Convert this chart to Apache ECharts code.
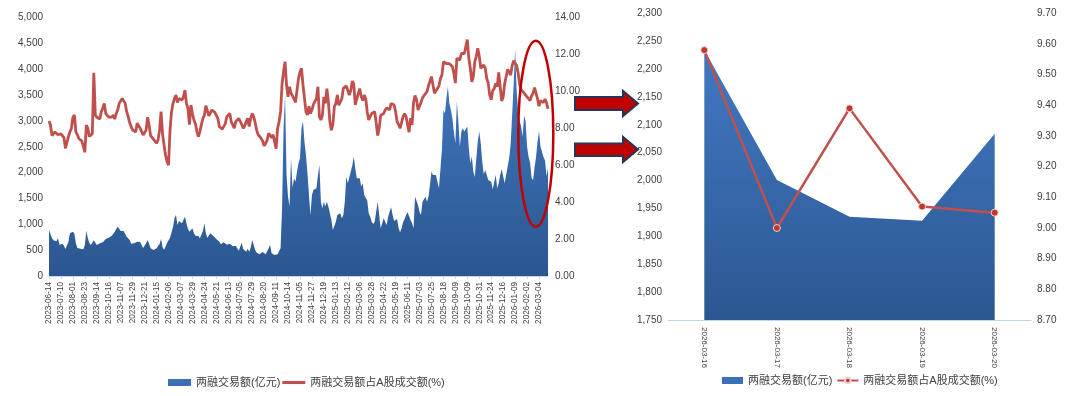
<!DOCTYPE html>
<html>
<head>
<meta charset="utf-8">
<script src="https://cdn.jsdelivr.net/npm/echarts@6.0.0/dist/echarts.min.js"></script>
<style>
html,body{margin:0;padding:0;background:#fff;}
#chart{width:1080px;height:396px;}
</style>
</head>
<body>
<div id="chart"></div>
<script>
// ---- Left panel: tick labels (a label every 8th sample; one sample = 2 trading days) ----
const tickDates = ['2023-06-14','2023-07-10','2023-08-01','2023-08-23','2023-09-14','2023-10-16','2023-11-07','2023-11-29','2023-12-21',
'2024-01-15','2024-02-06','2024-03-07','2024-03-29','2024-04-24','2024-05-21','2024-06-13','2024-07-05','2024-07-29','2024-08-20',
'2024-09-11','2024-10-14','2024-11-05','2024-11-27','2024-12-19','2025-01-13','2025-02-12','2025-03-06','2025-03-28','2025-04-22',
'2025-05-19','2025-06-11','2025-07-03','2025-07-25','2025-08-18','2025-09-09','2025-10-09','2025-10-31','2025-11-24','2025-12-16',
'2026-01-09','2026-02-02','2026-03-04'];

// 两融交易额(亿元), values
const amtHistory = [
890,864,729,690,697,671,729,606,632,626,587,522,503,664,826,826,858,819,632,542,
535,529,522,516,600,877,729,639,600,639,697,645,600,574,632,606,651,639,716,742,
742,735,780,793,858,909,955,935,871,871,871,813,761,787,697,626,632,632,632,664,
651,658,600,542,522,632,697,626,535,542,503,484,535,580,620,716,560,510,568,639,
664,742,761,948,1116,1180,987,1064,1051,1019,1019,1148,1019,916,858,884,922,826,780,780,
774,729,742,871,1019,826,742,755,826,806,774,780,716,697,664,613,613,651,639,606,
613,626,600,574,548,587,535,490,568,645,522,497,471,529,471,548,697,716,503,452,
439,419,406,464,439,419,419,535,600,439,419,406,390,420,420,535,1300,2857,3500,1954,
1535,1342,2277,1709,1890,1825,2019,2180,2277,2857,2986,2599,2341,1987,1567,1180,1567,1664,1664,1696,
1954,2148,1438,1309,1438,1342,1438,1342,1213,1084,890,890,1051,1180,1148,1213,1116,1180,1438,1922,
1793,1793,2019,2135,2309,2083,1890,1922,1890,1729,1793,1567,1567,1458,1213,1148,1051,1006,1051,1245,
1438,1180,922,1019,1116,1051,987,1148,1245,1329,1180,1064,1100,1103,922,845,922,1038,1103,1180,
1232,1161,1084,1019,922,1535,1535,1374,1245,1180,1438,1438,1535,1438,1535,1761,2019,1954,1954,1954,
1825,1696,1664,2438,3212,3148,3438,3664,3341,3212,3051,2780,2567,3373,2986,2503,2793,2857,2793,2761,
2890,2470,2180,2309,2019,1916,1954,2612,2793,2567,2212,1967,2051,1954,1858,1858,1825,1677,1664,1954,
1696,1793,1954,2064,2051,1793,1793,2116,2277,2548,3115,3700,4400,3600,3200,3000,2900,2700,3100,3000,
2500,2300,2200,1900,1850,2100,2300,2600,2800,2500,2400,2300,2234,1935,2084];

// 两融交易额占A股成交额(%)
const pctHistory = [
8.4,8.18,7.6,7.55,7.8,7.82,7.65,7.64,7.7,7.73,7.5,6.91,6.95,7.55,7.8,8.0,8.6,8.72,7.8,7.64,
7.45,7.36,7.3,7.0,6.7,8.18,8.0,7.55,7.6,7.7,11.0,8.72,8.6,8.54,8.5,8.9,9.1,9.35,8.8,8.72,
8.6,8.54,8.6,8.72,8.5,8.8,9.0,9.35,9.3,9.62,9.7,9.35,8.9,8.63,8.3,8.09,7.9,7.85,7.8,8.27,
8.3,8.0,7.9,7.64,7.7,7.9,8.6,8.18,7.6,7.55,7.4,7.31,7.2,7.36,7.9,8.9,7.7,7.09,6.55,6.19,
6.0,7.9,8.9,9.35,9.6,9.8,9.4,9.62,9.6,9.53,9.7,10.07,9.35,9.08,8.2,9.26,8.8,8.45,8.25,7.82,
7.55,7.82,8.2,8.54,8.7,9.22,9.3,8.68,8.6,8.99,8.9,8.86,8.7,8.54,8.1,8.03,7.95,8.03,8.25,8.63,
8.6,8.8,8.35,8.18,8.0,8.36,8.35,8.54,8.6,8.21,8.0,8.12,8.35,8.54,8.1,8.54,8.8,8.63,8.3,7.9,
7.65,7.64,7.45,7.31,7.05,7.18,7.35,7.73,7.8,7.49,7.65,7.27,6.9,8.0,8.35,8.9,10.4,11.07,11.6,10.34,
9.7,10.25,9.9,9.84,9.6,9.4,9.5,10.7,11.05,11.25,10.35,9.62,8.9,8.72,9.2,8.8,9.0,9.3,9.2,9.62,
10.25,8.63,8.45,8.72,9.7,9.35,10.15,9.44,8.35,7.9,8.2,9.17,9.35,9.8,9.25,9.35,9.6,10.16,10.25,10.3,
10.05,9.8,10.05,10.56,10.4,9.26,9.2,9.89,10.15,9.71,9.5,9.8,9.6,8.9,8.45,8.63,8.8,8.79,8.9,8.3,
7.6,8.0,8.7,8.75,8.8,8.99,9.1,9.03,9.0,9.35,9.3,9.26,8.9,8.36,8.2,8.0,7.9,8.63,8.8,8.63,
8.2,7.78,8.55,8.18,9.4,9.77,9.55,8.99,9.0,9.4,9.65,9.77,9.7,9.98,10.3,10.2,10.8,10.8,9.9,9.89,
10.15,10.3,10.7,10.88,11.6,11.7,11.5,11.5,11.5,11.6,11.35,10.97,10.45,11.79,11.7,11.7,12.05,11.97,12.05,12.42,
12.8,11.79,11.25,10.52,10.8,11.6,11.9,12.33,11.9,11.25,11.25,11.43,11.25,10.7,10.45,9.8,9.55,10.04,10.15,10.43,
10.25,11.03,10.25,9.48,9.7,10.43,10.8,11.19,11.25,10.88,11.4,11.66,11.6,11.4,11.0,10.4,10.1,10.0,9.9,9.8,
9.7,9.6,9.5,9.75,9.9,10.2,10.2,9.6,9.2,9.5,9.6,9.4,9.58,9.39,9.05];

// ---- Right panel: last five trading days ----
const recentDates = ['2026-03-16','2026-03-17','2026-03-18','2026-03-19','2026-03-20'];
const amtRecent = [2234, 2001, 1935, 1928, 2084];
const pctRecent = [9.58, 9.00, 9.39, 9.07, 9.05];

const nameAmt = '两融交易额(亿元)';
const namePct = '两融交易额占A股成交额(%)';

const histCats = amtHistory.map((_, i) => (i % 8 === 0 && tickDates[i / 8]) ? tickDates[i / 8] : '');

const FONT = '"Liberation Sans", "Noto Sans CJK SC", sans-serif';
const TXT = '#404040';
const AXIS = '#c5d5ea';
const BLUE = '#3b70b6';
const RED = '#c0504d';
const areaFill = () => new echarts.graphic.LinearGradient(0, 0, 0, 1, [
  {offset: 0, color: '#4279c3'}, {offset: 1, color: '#2b5790'}]);
const fmtK = v => Math.round(v).toLocaleString('en-US');
const fmt2 = v => v.toFixed(2);

const chart = echarts.init(document.getElementById('chart'), null, {renderer: 'canvas'});
chart.setOption({
  animation: false,
  textStyle: {fontFamily: FONT},
  grid: [
    {left: 49, top: 17.5, width: 499, height: 258.5},
    {left: 668, top: 13.3, width: 363, height: 306.7}
  ],
  xAxis: [
    {type: 'category', gridIndex: 0, data: histCats, boundaryGap: false,
     axisLine: {lineStyle: {color: AXIS, width: 1}},
     axisTick: {interval: 7, length: 3, lineStyle: {color: AXIS}},
     axisLabel: {interval: 7, rotate: 90, fontSize: 8.2, margin: 6, color: TXT, fontFamily: FONT}},
    {type: 'category', gridIndex: 1, data: recentDates, boundaryGap: true,
     axisLine: {lineStyle: {color: AXIS, width: 1}},
     axisTick: {length: 4, lineStyle: {color: AXIS}},
     axisLabel: {interval: 0, rotate: -90, fontSize: 8, margin: 7, color: TXT, fontFamily: FONT}}
  ],
  yAxis: [
    {type: 'value', gridIndex: 0, min: 0, max: 5000, interval: 500, splitLine: {show: false},
     axisLine: {show: false}, axisTick: {show: false},
     axisLabel: {formatter: fmtK, fontSize: 10, margin: 6, color: TXT, fontFamily: FONT}},
    {type: 'value', gridIndex: 0, position: 'right', min: 0, max: 14, interval: 2, splitLine: {show: false},
     axisLine: {show: false}, axisTick: {show: false},
     axisLabel: {formatter: fmt2, fontSize: 10, margin: 7, color: TXT, fontFamily: FONT}},
    {type: 'value', gridIndex: 1, min: 1750, max: 2300, interval: 50, splitLine: {show: false},
     axisLine: {show: false}, axisTick: {show: false},
     axisLabel: {formatter: fmtK, fontSize: 10, margin: 6, color: TXT, fontFamily: FONT}},
    {type: 'value', gridIndex: 1, position: 'right', min: 8.7, max: 9.7, interval: 0.1, splitLine: {show: false},
     axisLine: {show: false}, axisTick: {show: false},
     axisLabel: {formatter: fmt2, fontSize: 10, margin: 6, color: TXT, fontFamily: FONT}}
  ],
  legend: [
    {left: 163, top: 372, itemWidth: 23, itemHeight: 7, itemGap: 2, selectedMode: false,
     textStyle: {fontSize: 11, color: TXT, fontFamily: FONT},
     data: [{name: nameAmt, icon: 'rect', itemStyle: {color: BLUE, borderWidth: 0}},
            {name: namePct, icon: 'path://M0,0H30V4H0Z', itemStyle: {color: RED, borderWidth: 0}}]},
    {left: 717, top: 370, itemWidth: 21, itemHeight: 7, itemGap: 4, selectedMode: false,
     textStyle: {fontSize: 11, color: TXT, fontFamily: FONT},
     data: [{name: nameAmt, icon: 'rect', itemStyle: {color: BLUE, borderWidth: 0}},
            {name: namePct}]}
  ],
  series: [
    {name: nameAmt, type: 'line', xAxisIndex: 1, yAxisIndex: 2, data: amtRecent,
     showSymbol: false, symbol: 'none', itemStyle: {color: BLUE}, lineStyle: {width: 0},
     areaStyle: {color: areaFill(), opacity: 1, origin: 'start'}, z: 2},
    {name: namePct, type: 'line', xAxisIndex: 1, yAxisIndex: 3, data: pctRecent,
     symbol: 'circle', symbolSize: 7, showSymbol: true,
     itemStyle: {color: '#c0392b', borderColor: '#f0d0cf', borderWidth: 1},
     lineStyle: {color: RED, width: 2.5}, z: 3},
    {name: nameAmt, type: 'line', xAxisIndex: 0, yAxisIndex: 0, data: amtHistory,
     showSymbol: false, symbol: 'none', itemStyle: {color: BLUE}, lineStyle: {width: 0},
     areaStyle: {color: areaFill(), opacity: 1}, z: 2},
    {name: namePct, type: 'line', xAxisIndex: 0, yAxisIndex: 1, data: pctHistory,
     showSymbol: false, symbol: 'none', itemStyle: {color: RED},
     lineStyle: {color: RED, width: 2.8}, z: 3}
  ],
  graphic: [
    {type: 'polygon', z: 100,
     shape: {points: [[575,97],[623,97],[623,91],[638,103.5],[623,116],[623,110],[575,110]]},
     style: {fill: '#c00000', stroke: '#243654', lineWidth: 2}},
    {type: 'polygon', z: 100,
     shape: {points: [[575,143.5],[623,143.5],[623,137],[638,149.5],[623,162],[623,156],[575,156]]},
     style: {fill: '#c00000', stroke: '#243654', lineWidth: 2}},
    {type: 'ellipse', z: 100,
     shape: {cx: 535.8, cy: 133.7, rx: 17.5, ry: 93},
     style: {fill: null, stroke: '#c00000', lineWidth: 2.5}}
  ]
});
</script>
</body>
</html>
